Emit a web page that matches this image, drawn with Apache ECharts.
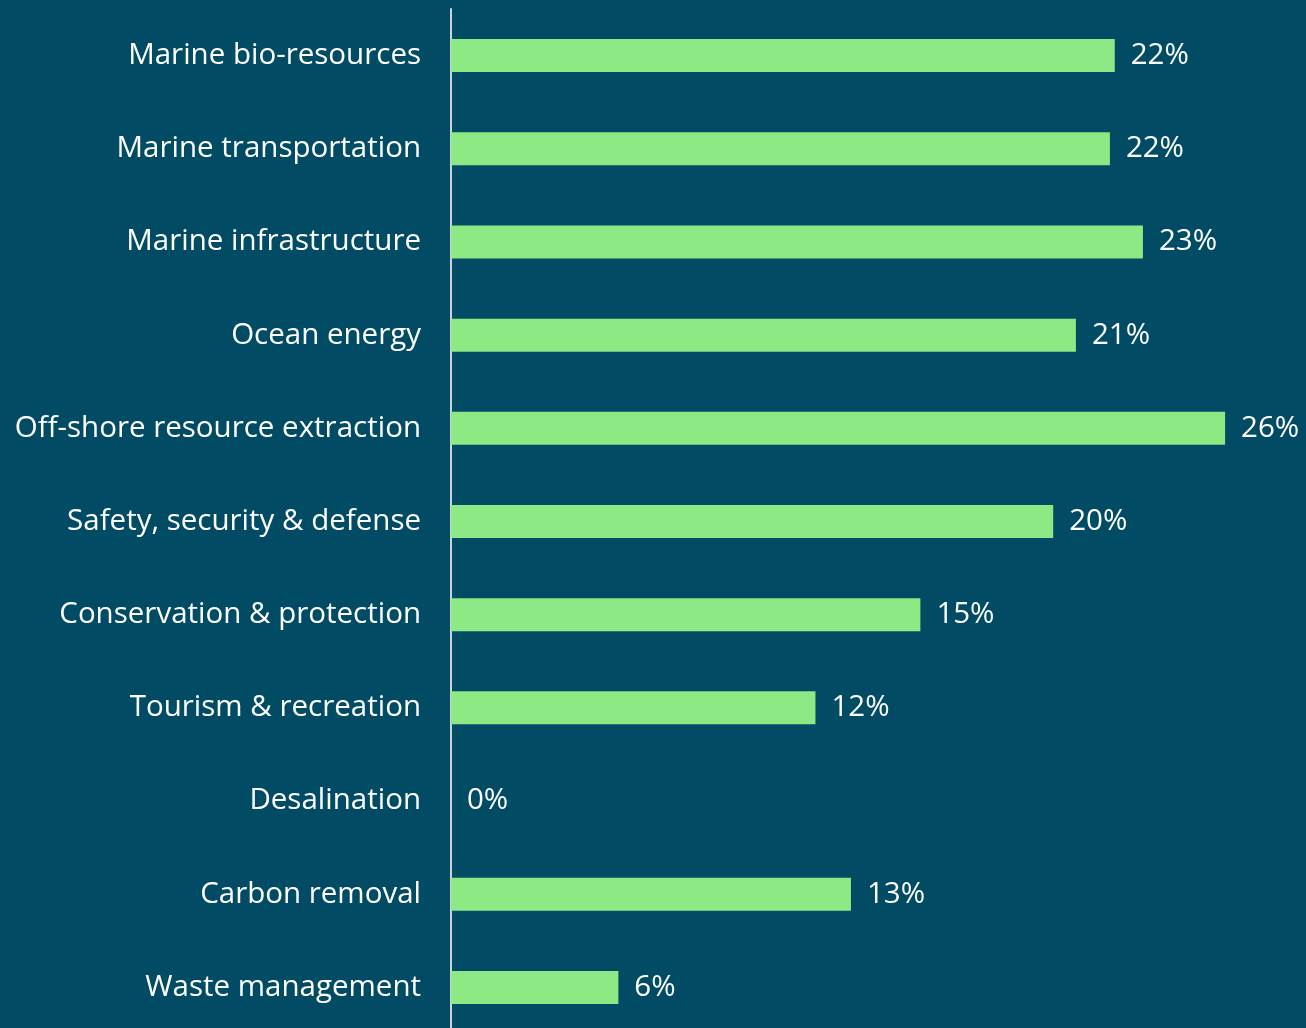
<!DOCTYPE html>
<html>
<head>
<meta charset="utf-8">
<script src="https://cdn.jsdelivr.net/npm/echarts@6/dist/echarts.min.js"></script>
<style>
  html, body { margin: 0; padding: 0; background: #014c64; }
  #chart { width: 1306px; height: 1028px; }
</style>
</head>
<body>
<div id="chart"></div>
<script>
// Share of activity by ocean-economy sector (%)
const sectors = [
  'Marine bio-resources',
  'Marine transportation',
  'Marine infrastructure',
  'Ocean energy',
  'Off-shore resource extraction',
  'Safety, security & defense',
  'Conservation & protection',
  'Tourism & recreation',
  'Desalination',
  'Carbon removal',
  'Waste management'
];
const shares = [21.89, 21.73, 22.82, 20.61, 25.53, 19.86, 15.48, 12.02, 0, 13.19, 5.52];
const axisMax = 28;

const chart = echarts.init(document.getElementById('chart'));
chart.setOption({
  backgroundColor: '#014c64',
  animation: false,
  grid: {
    left: 451, top: 9, width: 849, height: 1025,
    containLabel: false,
    outerBoundsMode: 'none'
  },
  xAxis: {
    type: 'value',
    min: 0,
    max: axisMax,
    show: false
  },
  yAxis: {
    type: 'category',
    data: sectors,
    inverse: true,
    axisLine: { show: true, lineStyle: { color: '#c9d3d8', width: 2 } },
    axisTick: { show: false },
    axisLabel: {
      margin: 30,
      color: '#ffffff',
      fontFamily: 'Open Sans',
      fontSize: 29.5,
      padding: [3, 0, 0, 0]
    }
  },
  series: [{
    type: 'bar',
    data: shares,
    barWidth: 33,
    itemStyle: { color: '#8ce983' },
    label: {
      show: true,
      position: 'right',
      distance: 16,
      color: '#ffffff',
      fontFamily: 'Open Sans',
      fontSize: 29.5,
      padding: [4, 0, 0, 0],
      formatter: p => Math.round(p.value) + '%'
    }
  }]
});
</script>
</body>
</html>
